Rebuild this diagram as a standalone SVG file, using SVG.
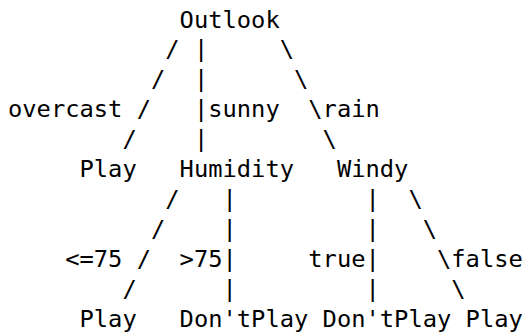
<svg xmlns="http://www.w3.org/2000/svg" width="525" height="333" viewBox="0 0 525 333">
  <style>
    text { font-family: "DejaVu Sans Mono", "Liberation Mono", monospace; font-size: 23.75px; fill: #000; white-space: pre; }
  </style>
  <rect width="525" height="333" fill="#fff"/>

  <!-- tree nodes (monospace grid: x = 8 + 14.3*col, baseline step 29.9) -->
  <g id="node-outlook"><text x="179.6" y="27.5">Outlook</text></g>
  <g id="node-play-overcast"><text x="79.5" y="177">Play</text></g>
  <g id="node-humidity"><text x="179.6" y="177">Humidity</text></g>
  <g id="node-windy"><text x="336.9" y="177">Windy</text></g>
  <g id="node-play-low-humidity"><text x="79.5" y="326.5">Play</text></g>
  <g id="node-dontplay-high-humidity"><text x="179.6" y="326.5">Don'tPlay</text></g>
  <g id="node-dontplay-windy"><text x="322.6" y="326.5">Don'tPlay</text></g>
  <g id="node-play-calm"><text x="465.6" y="326.5">Play</text></g>

  <!-- branch strokes drawn as characters -->
  <g id="connectors">
    <text x="165.3" y="57.4">/</text><text x="193.9" y="57.4">|</text><text x="279.7" y="57.4">\</text>
    <text x="151" y="87.3">/</text><text x="193.9" y="87.3">|</text><text x="294" y="87.3">\</text>
    <text x="136.7" y="117.2">/</text><text x="193.9" y="117.2">|</text><text x="308.3" y="117.2">\</text>
    <text x="122.4" y="147.1">/</text><text x="193.9" y="147.1">|</text><text x="322.6" y="147.1">\</text>
    <text x="165.3" y="206.9">/</text><text x="222.5" y="206.9">|</text><text x="365.5" y="206.9">|</text><text x="408.4" y="206.9">\</text>
    <text x="151" y="236.8">/</text><text x="222.5" y="236.8">|</text><text x="365.5" y="236.8">|</text><text x="422.7" y="236.8">\</text>
    <text x="136.7" y="266.7">/</text><text x="222.5" y="266.7">|</text><text x="365.5" y="266.7">|</text><text x="437" y="266.7">\</text>
    <text x="122.4" y="296.6">/</text><text x="222.5" y="296.6">|</text><text x="365.5" y="296.6">|</text><text x="451.3" y="296.6">\</text>
  </g>

  <!-- branch labels -->
  <g id="edge-labels">
    <text x="8" y="117.2">overcast</text>
    <text x="208.2" y="117.2">sunny</text>
    <text x="322.6" y="117.2">rain</text>
    <text x="65.2" y="266.7">&lt;=75</text>
    <text x="179.6" y="266.7">&gt;75</text>
    <text x="308.3" y="266.7">true</text>
    <text x="451.3" y="266.7">false</text>
  </g>
</svg>
